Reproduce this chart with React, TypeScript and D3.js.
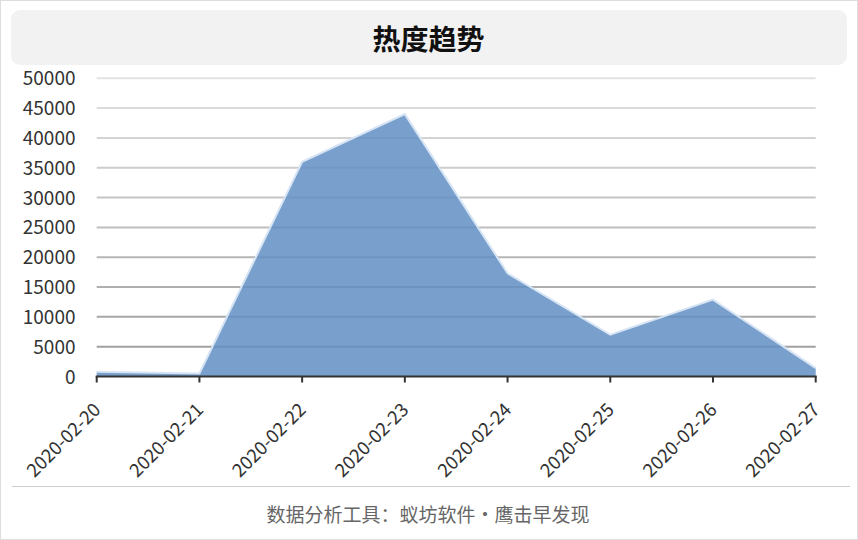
import React from "react";
import * as d3 from "d3";

const dates = ["2020-02-20", "2020-02-21", "2020-02-22", "2020-02-23", "2020-02-24", "2020-02-25", "2020-02-26", "2020-02-27"];
const heat = [800, 500, 36000, 44000, 17300, 7000, 12900, 1400];
const yTicks = [0, 5000, 10000, 15000, 20000, 25000, 30000, 35000, 40000, 45000, 50000];
const title = "热度趋势";
const footer = "数据分析工具：蚁坊软件・鹰击早发现";

const W = 858;
const H = 540;
const FONT = "'Noto Sans CJK SC', 'Noto Sans', sans-serif";

export default function App() {
  const x = d3.scalePoint<string>().domain(dates).range([96.7, 815.7]);
  const y = d3.scaleLinear().domain([0, 50000]).range([376.5, 78.3]);
  const gridColor = d3.interpolateRgb("#999999", "#e2e2e2");

  const pts: [number, number][] = dates.map((d, i) => [x(d)!, heat[i]]);
  const area = d3
    .area<[number, number]>()
    .x((p) => p[0])
    .y0(y(0))
    .y1((p) => y(p[1]));
  const line = d3
    .line<[number, number]>()
    .x((p) => p[0])
    .y((p) => y(p[1]));

  const y0 = y(0);

  return (
    <div style={{ position: "absolute", left: 0, top: 0 }}>
      <svg width={W} height={H} style={{ display: "block", fontFamily: FONT }}>
        <rect x={0.5} y={0.5} width={W - 1} height={H - 1} fill="#fff" stroke="#dddddd" />
        <rect x={11} y={10} width={836} height={55} rx={9} fill="#f2f2f2" />
        <text x={428.5} y={49.5} textAnchor="middle" fontSize={28} fontWeight="bold" fill="#111">
          {title}
        </text>

        {yTicks.map((t) => (
          <g key={t}>
            {t > 0 && (
              <line x1={x.range()[0]} x2={x.range()[1]} y1={y(t)} y2={y(t)} stroke={gridColor(t / 50000)} strokeWidth={2} />
            )}
            <text x={75.5} y={y(t) + 7} textAnchor="end" fontSize={19} fill="#333">
              {t}
            </text>
          </g>
        ))}

        <path d={area(pts) || ""} fill="#628fc3" fillOpacity={0.85} />
        <path d={line(pts) || ""} fill="none" stroke="#d6e4f4" strokeWidth={2} />

        <line x1={x.range()[0] - 1} x2={x.range()[1] + 1} y1={y0} y2={y0} stroke="#333" strokeWidth={2.2} />
        {dates.map((d) => (
          <g key={d}>
            <line x1={x(d)} x2={x(d)} y1={y0} y2={y0 + 6} stroke="#333" strokeWidth={2} />
            <text
              transform={`translate(${x(d)! + 5},${411}) rotate(-45)`}
              textAnchor="end"
              fontSize={18.5}
              fill="#333"
            >
              {d}
            </text>
          </g>
        ))}

        <line x1={12} x2={850} y1={486.5} y2={486.5} stroke="#cccccc" />
        <text x={428} y={522} textAnchor="middle" fontSize={19} fill="#666">
          {footer}
        </text>
      </svg>
    </div>
  );
}
